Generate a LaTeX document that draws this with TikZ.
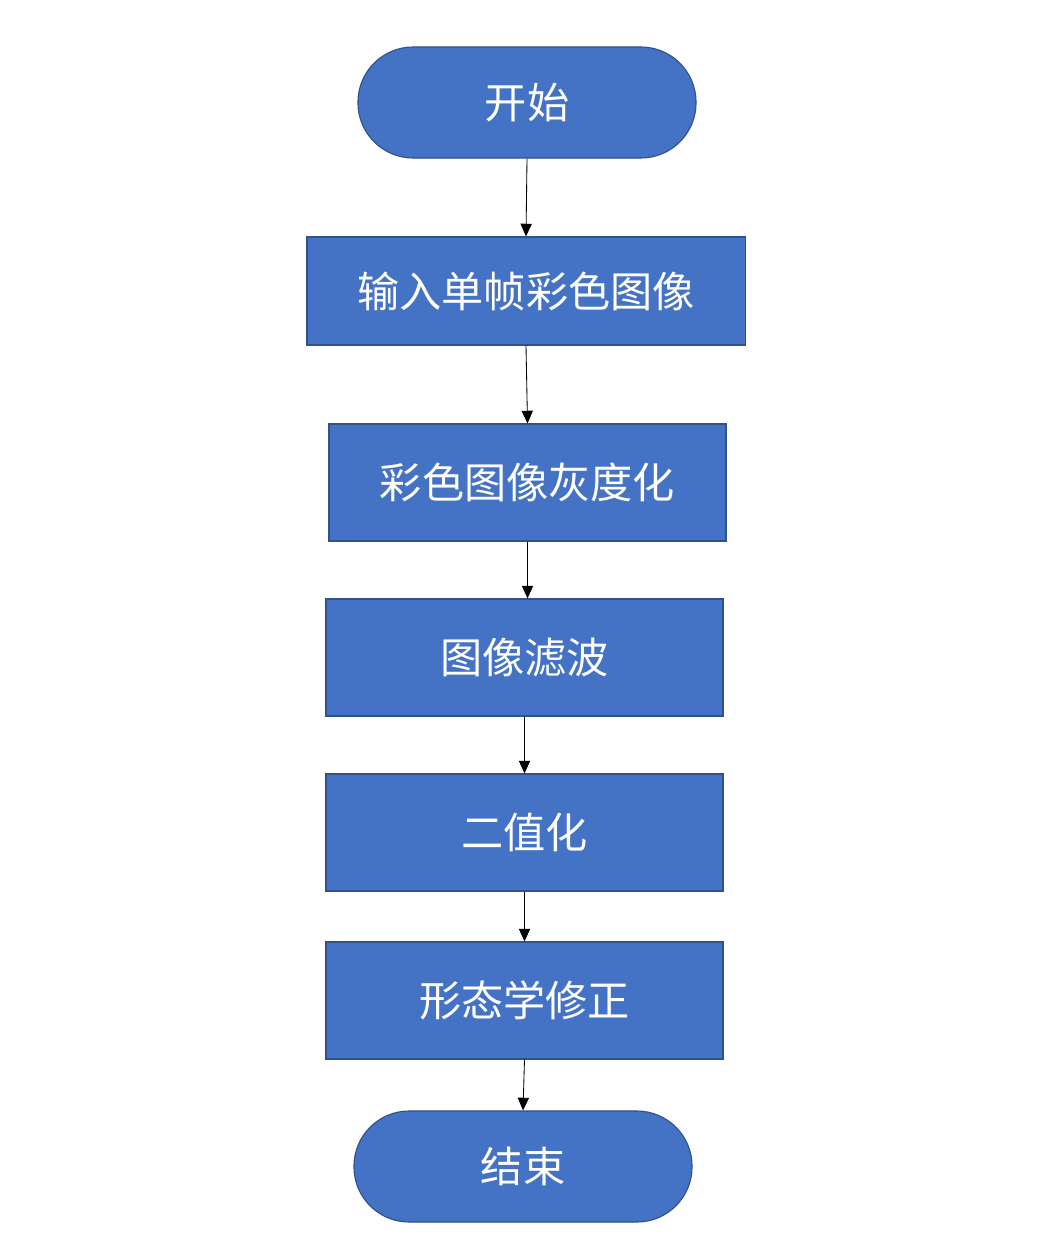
\documentclass[tikz,border=0pt]{standalone}
\usepackage{fontspec}
\newfontfamily\cjk{Noto Sans CJK SC}
\usetikzlibrary{arrows.meta}
\definecolor{boxblue}{HTML}{4472C4}
\definecolor{boxedge}{HTML}{2F528F}
\tikzset{   term/.style = {rectangle, rounded corners = 1.38cm, draw = boxedge, thick, fill = boxblue, text = white, minimum width = 8.45cm, minimum height = 2.775cm, font = \cjk\fontsize{30}{36}\selectfont},
            proc/.style = {rectangle, draw = boxedge, thick, fill = boxblue, text = white, minimum width = 9.925cm, minimum height = 2.925cm, font = \cjk\fontsize{30}{36}\selectfont},
            flow/.style = {-{Triangle[length=9pt, width=8pt]}, line width=0.6pt, black}}
\begin{document}
\begin{tikzpicture}[x=0.025cm, y=-0.025cm]
                        \useasboundingbox (0,0) rectangle (1056,1248);
                        \node[term] (start) at (527,102.5) {开始};
                        \node[proc, minimum width=10.95cm, minimum height=2.7cm] (input) at (526,291) {输入单帧彩色图像};
                        \node[proc] (gray) at (527.5,482.5) {彩色图像灰度化};
                        \node[proc] (filter) at (524.5,657.5) {图像滤波};
                        \node[proc] (binary) at (524.5,832.5) {二值化};
                        \node[proc] (morph) at (524.5,1000.5) {形态学修正};
                        \node[term] (end) at (523,1166.5) {结束};
                        \draw[flow] (start.south) -- (input.north);
                        \draw[flow] (input.south) -- (gray.north);
                        \draw[flow] (gray.south) -- (gray.south |- filter.north);
                        \draw[flow] (filter.south) -- (binary.north);
                        \draw[flow] (binary.south) -- (morph.north);
                        \draw[flow] (morph.south) -- (end.north);
                      \end{tikzpicture}
\end{document}
